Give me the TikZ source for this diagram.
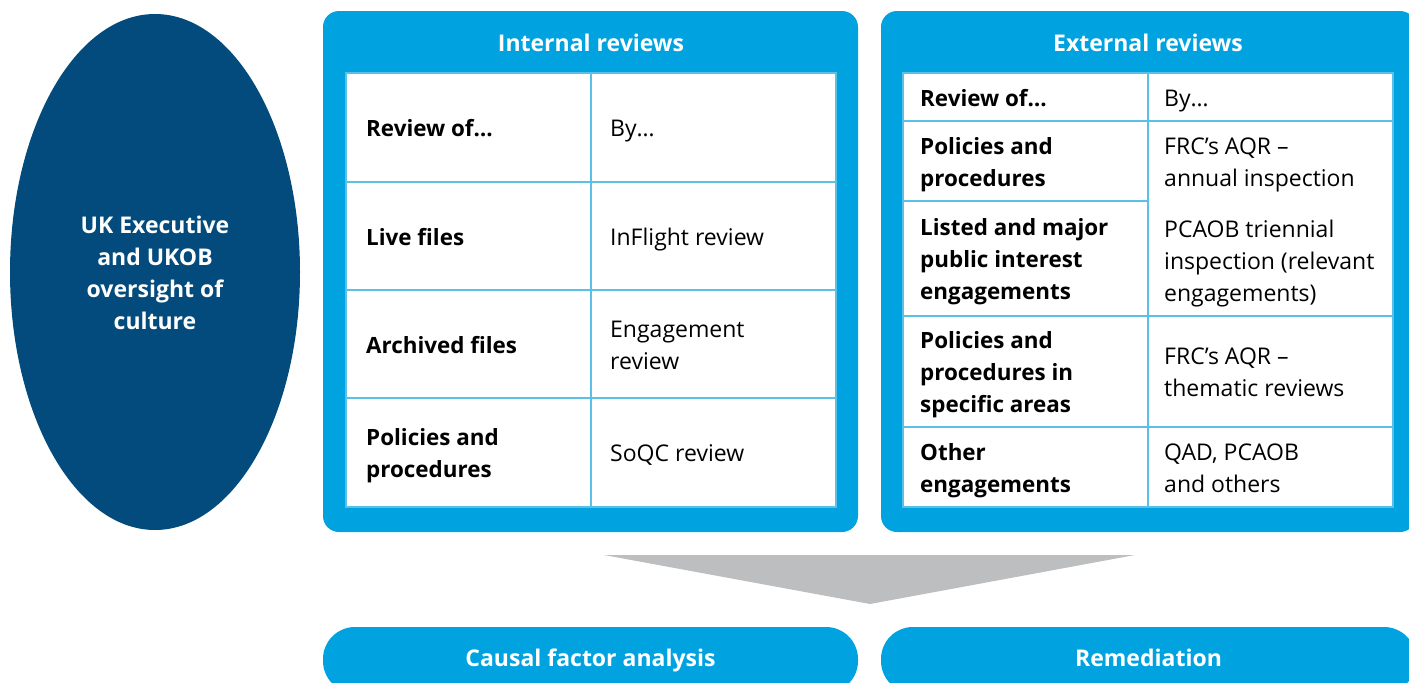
\documentclass[tikz,border=0pt]{standalone}
\usepackage{fontspec}
\setmainfont{Open Sans}
\usetikzlibrary{shapes.geometric}
\definecolor{panelblue}{HTML}{00A3E0}
\definecolor{gridblue}{HTML}{5BC0E8}
\definecolor{navy}{HTML}{024B7C}
\definecolor{wedgegrey}{HTML}{BDBEC0}

\begin{document}
\begin{tikzpicture}[x=1pt,y=-1pt,
  panel/.style={fill=panelblue, rounded corners=16pt},
  strutted/.style={execute at begin node=\strut, execute at end node=\strut},
  pill/.style={fill=panelblue, rounded corners=32pt, minimum width=535pt, minimum height=66pt,
    inner sep=0pt, text=white, font=\fontsize{23}{32}\selectfont\bfseries, strutted},
  grid/.style={draw=gridblue, line width=1.6pt},
  txt/.style={inner sep=0pt, anchor=west, align=left, text=black, strutted,
    font=\fontsize{23}{32}\selectfont},
  lbl/.style={txt, font=\fontsize{22.4}{32}\selectfont\bfseries},
  head/.style={inner sep=0pt, text=white, align=center, strutted,
    font=\fontsize{23}{32}\selectfont\bfseries},
]
\useasboundingbox (0,0) rectangle (1409,683);
\clip (0,0) rectangle (1409,683);

% oversight ellipse and its caption
\node[ellipse, fill=navy, minimum width=290pt, minimum height=516pt, inner sep=0pt]
  (oversight) at (155,272) {};
\node[head] (oversightText) at (155,278) {UK Executive\\and UKOB\\oversight of\\culture};

% ---------- internal reviews ----------
\fill[panel] (323,11) rectangle (858,532);
\node[head] (intTitle) at (591,45) {Internal reviews};
\fill[white] (346,73) rectangle (836,507);
\draw[grid] (346,73) rectangle (836,507);
\draw[grid] (591,73) -- (591,507);
\draw[grid] (346,182) -- (836,182);
\draw[grid] (346,290) -- (836,290);
\draw[grid] (346,398) -- (836,398);

\node[lbl] (iHeadL) at (366,130) {Review of…};
\node[txt] (iHeadR) at (610,130) {By…};
\node[lbl] (iLiveL) at (366,239) {Live files};
\node[txt] (iLiveR) at (610,239) {InFlight review};
\node[lbl] (iArchL) at (366,347) {Archived files};
\node[txt] (iArchR) at (610,350) {Engagement\\review};
\node[lbl] (iPolL) at (366,458) {Policies and\\procedures};
\node[txt] (iPolR) at (610,455) {SoQC review};

% ---------- external reviews ----------
\fill[panel] (881,11) rectangle (1416,532);
\node[head] (extTitle) at (1148,45) {External reviews};
\fill[white] (903,73) rectangle (1393,507);
\draw[grid] (903,73) rectangle (1393,507);
\draw[grid] (1148,73) -- (1148,507);
\draw[grid] (903,121) -- (1393,121);
\draw[grid] (903,201) -- (1148,201);
\draw[grid] (903,316) -- (1393,316);
\draw[grid] (903,427) -- (1393,427);

\node[lbl] (eHeadL) at (920,100) {Review of…};
\node[txt] (eHeadR) at (1164,100) {By…};
\node[lbl] (ePolL) at (920,167) {Policies and\\procedures};
\node[txt] (eAnnR) at (1164,167) {FRC’s AQR –\\annual inspection};
\node[lbl] (eListL) at (920,264) {Listed and major\\public interest\\engagements};
\node[txt] (eTriR) at (1164,266) {PCAOB triennial\\inspection (relevant\\engagements)};
\node[lbl] (eSpecL) at (920,377) {Policies and\\procedures in\\specific areas};
\node[txt] (eThemR) at (1164,377) {FRC’s AQR –\\thematic reviews};
\node[lbl] (eOthL) at (920,473) {Other\\engagements};
\node[txt] (eOthR) at (1164,473) {QAD, PCAOB\\and others};

% funnel wedge
\fill[wedgegrey] (604,555) -- (1135,555) -- (870,604) -- cycle;

% outcome pills
\node[pill] (causal) at (590.5,660) {Causal factor analysis};
\node[pill] (remed) at (1148.5,660) {Remediation};
\end{tikzpicture}
\end{document}
